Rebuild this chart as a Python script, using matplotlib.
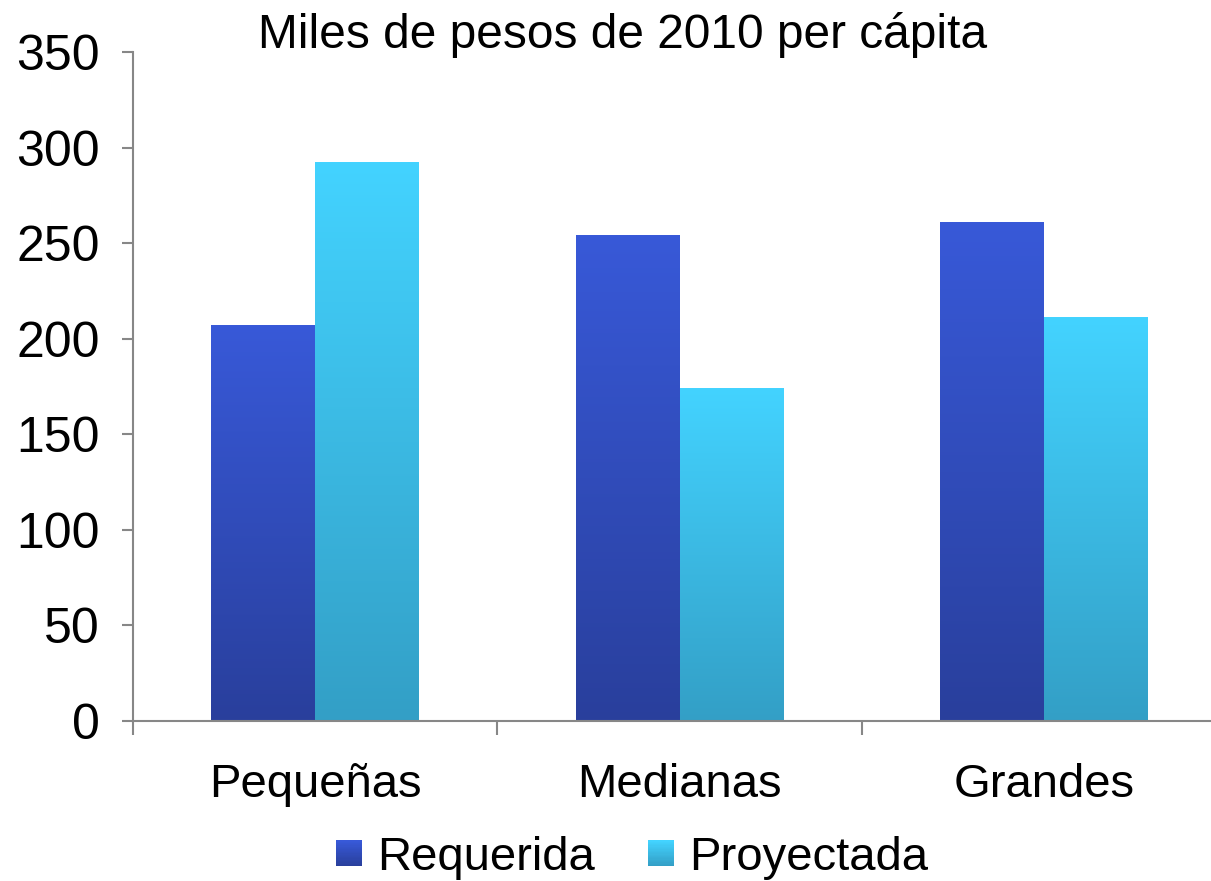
import matplotlib
matplotlib.use("Agg")
import matplotlib.pyplot as plt
import numpy as np
from matplotlib.colors import LinearSegmentedColormap
from matplotlib.patches import Rectangle
from matplotlib.legend_handler import HandlerBase

plt.rcParams["font.family"] = ["Liberation Sans", "DejaVu Sans"]

# Datos (miles de pesos de 2010 per cápita)
categorias = ["Pequeñas", "Medianas", "Grandes"]
requerida = [207, 254, 261]
proyectada = [292, 174, 211]
series = ["Requerida", "Proyectada"]
titulo = "Miles de pesos de 2010 per cápita"

# degradado vertical de cada serie: (abajo, arriba)
degradados = {
    "Requerida": ("#293f9c", "#3859d8"),
    "Proyectada": ("#339fc6", "#43d3ff"),
}
gris = "#878787"


def barra_degradada(ax, x, ancho, alto, colores):
    cmap = LinearSegmentedColormap.from_list("g", colores)
    grad = np.linspace(0, 1, 256).reshape(-1, 1)
    ax.imshow(grad, extent=[x - ancho / 2, x + ancho / 2, 0, alto],
              origin="lower", aspect="auto", cmap=cmap, zorder=2)


class HandlerDegradado(HandlerBase):
    # cuadrito de la leyenda con el mismo degradado
    def __init__(self, colores):
        super().__init__()
        self.colores = colores

    def create_artists(self, legend, orig_handle, xdescent, ydescent,
                       width, height, fontsize, trans):
        cmap = LinearSegmentedColormap.from_list("g", self.colores)
        lado = min(width, height)
        x0 = -xdescent + width - lado
        y0 = -ydescent + (height - lado) / 2
        n = 20
        artistas = []
        for i in range(n):
            r = Rectangle((x0, y0 + lado * i / n), lado, lado / n + 0.3,
                          facecolor=cmap(i / (n - 1)), edgecolor="none",
                          transform=trans)
            artistas.append(r)
        return artistas


fig = plt.figure(figsize=(12.11, 8.81), dpi=100)
ax = fig.add_axes([0.1098, 0.1816, 0.9030, 0.7594])

ancho = 0.285
pos = np.arange(len(categorias))
for i in range(len(categorias)):
    barra_degradada(ax, pos[i] - ancho / 2, ancho, requerida[i], degradados["Requerida"])
    barra_degradada(ax, pos[i] + ancho / 2, ancho, proyectada[i], degradados["Proyectada"])

ax.set_xlim(-0.5, 2.5)
ax.set_ylim(0, 350)
ax.set_yticks(np.arange(0, 351, 50))

# marcas entre categorías, etiquetas centradas
ax.set_xticks([-0.5, 0.5, 1.5, 2.5])
ax.set_xticklabels([])
ax.set_xticks(pos, minor=True)
ax.set_xticklabels(categorias, minor=True)
ax.tick_params(axis="x", which="major", length=10, width=1.5, color=gris, direction="out")
ax.tick_params(axis="x", which="minor", length=0, pad=30, labelsize=34)
ax.tick_params(axis="y", length=8, width=1.5, color=gris, pad=16, labelsize=36)

for lado in ["top", "right"]:
    ax.spines[lado].set_visible(False)
for lado in ["left", "bottom"]:
    ax.spines[lado].set_color(gris)
    ax.spines[lado].set_linewidth(1.5)

fig.text(0.514, 1 - 48 / 881, titulo, fontsize=34.5, ha="center", va="baseline")

handles = [Rectangle((0, 0), 1, 1), Rectangle((0, 0), 1, 1)]
fig.legend(handles, series, loc="lower center", bbox_to_anchor=(0.522, -0.047),
           ncol=2, frameon=False, fontsize=34, handlelength=0.55, handleheight=0.55,
           handletextpad=0.32, columnspacing=1.13,
           handler_map={handles[0]: HandlerDegradado(degradados["Requerida"]),
                        handles[1]: HandlerDegradado(degradados["Proyectada"])})

fig.savefig("out.png", dpi=100)
